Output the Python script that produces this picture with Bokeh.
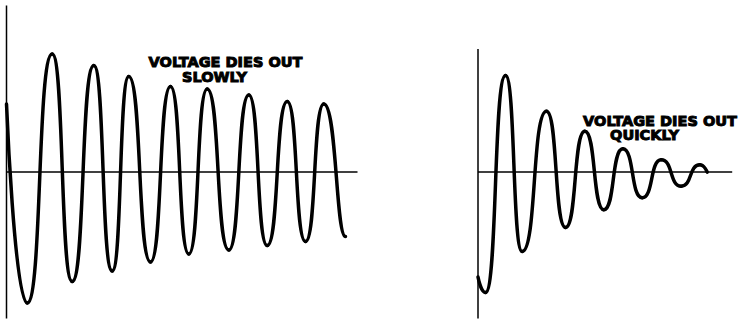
import numpy as np
from bokeh.plotting import figure
from bokeh.layouts import row
from bokeh.models import Range1d
from bokeh.core.properties import value
from bokeh.embed import file_html
from bokeh.resources import INLINE

# ---- data: extremes of the voltage waveforms (time, voltage; arbitrary units) ----
slow_t = [0.0, 2.07, 4.57, 6.57, 8.73, 10.57, 12.23, 14.40, 16.40, 18.23,
          20.07, 22.23, 24.23, 26.07, 28.07, 29.90, 31.73, 33.90]
slow_v = [6.8, -13.1, 11.8, -10.95, 10.65, -9.9, 9.55, -9.0, 8.55, -8.2,
          8.3, -7.8, 7.7, -7.35, 7.05, -6.95, 6.8, -6.45]

quick_t = [0.0, 0.75, 2.75, 4.42, 6.85, 8.75, 10.68, 12.58, 14.48, 16.42,
           18.32, 20.32, 22.18, 22.92]
quick_v = [-10.5, -12.05, 9.65, -7.95, 6.08, -5.55, 4.08, -3.78, 2.32, -2.58,
           1.22, -1.42, 0.72, -0.02]

# axis extents (time end, voltage top, voltage bottom)
slow_axis = [35.1, 16.65, -14.65]
quick_axis = [25.42, 12.3, -14.65]

slow_label = ["VOLTAGE DIES OUT", "SLOWLY"]
quick_label = ["VOLTAGE DIES OUT", "QUICKLY"]

H = 0.6  # bezier handle fraction at extremes


def make_panel(width, xr, yr, t, v, axis, labels, lab_x, lab_y, end_h):
    p = figure(width=width, height=320, x_range=Range1d(*xr), y_range=Range1d(*yr),
               output_backend="svg", toolbar_location=None,
               x_axis_type=None, y_axis_type=None, min_border=0)
    p.grid.visible = False
    p.outline_line_color = None
    p.background_fill_color = "white"
    p.border_fill_color = "white"

    # axes lines
    p.segment(x0=[0, 0], y0=[0, axis[2]], x1=[axis[0], 0], y1=[0, axis[1]],
              line_color="black", line_width=1.5)

    t = np.asarray(t, float)
    v = np.asarray(v, float)
    h = np.full(len(t), H)
    h[0] = 0.0
    h[-1] = end_h
    dt = np.diff(t)
    p.bezier(x0=t[:-1], y0=v[:-1], x1=t[1:], y1=v[1:],
             cx0=t[:-1] + h[:-1] * dt, cy0=v[:-1],
             cx1=t[1:] - h[1:] * dt, cy1=v[1:],
             line_color="black", line_width=3.5, line_cap="round")

    p.text(x=lab_x, y=lab_y, text=labels, text_font=value("DejaVu Sans"),
           text_font_style="bold", text_font_size="14.5px", text_align="center",
           text_baseline="alphabetic", text_color="black",
           text_outline_color="black")
    return p


left = make_panel(420, (-0.6, 41.4), (-14.85, 17.15),
                  slow_t, slow_v, slow_axis, slow_label, [21.9, 20.8], [11.02, 9.48], 0.45)
right = make_panel(322, (-5.75, 26.45), (-14.85, 17.15),
                   quick_t, quick_v, quick_axis, quick_label, [18.2, 16.65], [5.12, 3.7], 0.0)

layout = row(left, right, spacing=0)
open("out.html", "w").write(file_html(layout, INLINE))
